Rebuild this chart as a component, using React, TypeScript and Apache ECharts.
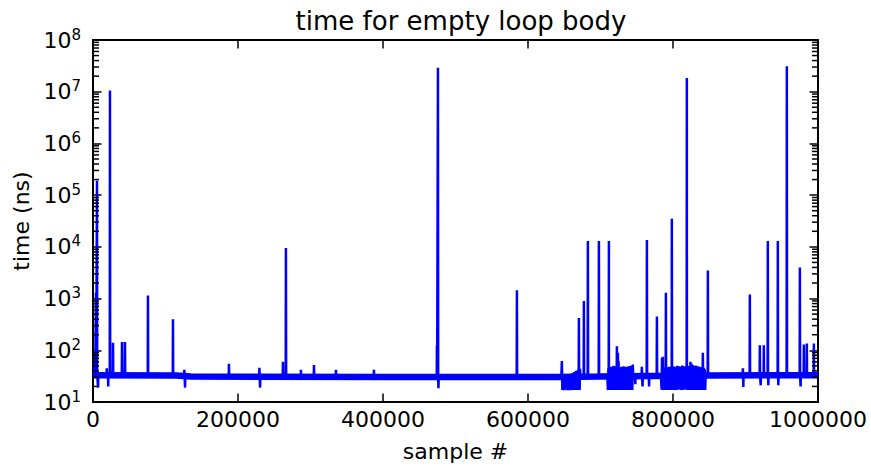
import React, { useEffect, useRef } from 'react';
import * as echarts from 'echarts';

const FONT = 'DejaVu Sans';
const BLUE = '#0000ff';

const xTicks = [0, 200000, 400000, 600000, 800000, 1000000];
const yMin = 10;
const yMax = 1e8;
const decadeStarts = [10, 100, 1000, 10000, 100000, 1000000, 10000000];
const minorMultipliers = [2, 3, 4, 5, 6, 7, 8, 9];

// slowly varying baseline level (ns) at given sample indices
const baseLevels: [number, number][] = [
  [0, 33], [115000, 32.5], [135000, 31], [400000, 30.5], [640000, 30.5],
  [700000, 31], [845000, 32.5], [1000000, 33],
];

// isolated spikes / dips: [sample #, time ns]
const spikes: [number, number][] = [
  [1500, 55], [2800, 90], [4100, 1300], [5500, 190000], [7000, 19],
  [19000, 45], [21000, 20], [23400, 10500000], [27600, 140],
  [40000, 145], [44100, 145],
  [75800, 1150], [110300, 400],
  [126000, 42], [127000, 19],
  [187500, 55], [229500, 46], [230500, 19],
  [262000, 60], [266100, 9500],
  [286800, 42], [304800, 52], [335100, 42], [387500, 42],
  [474400, 125], [475800, 29000000], [476500, 18.5],
  [584700, 1450],
  [670200, 420], [677100, 900], [682600, 13000], [697800, 13000],
  [711600, 13000], [722600, 120], [724000, 90],
  [748000, 22], [757000, 48], [758000, 20], [764000, 13500], [767000, 20],
  [777800, 450],
  [786000, 75], [790200, 1300], [798400, 35000], [819100, 18500000],
  [841200, 90], [848100, 3500],
  [896400, 45], [897000, 19.5], [906000, 1200], [919800, 125], [921000, 21],
  [925300, 125], [930800, 13000], [931500, 21], [944600, 13000], [945300, 21],
  [957000, 31000000], [975000, 4000], [976000, 20], [980500, 130],
  [984600, 135], [994300, 135],
];

// dense noisy stretches: [sample #, time ns]
const noiseA: [number, number][] = [
  [646000, 30], [646700, 62], [647400, 17], [648100, 29], [648800, 17.5], [649500, 30],
  [650200, 17], [650900, 31], [651600, 18], [652300, 30], [653000, 17.5], [653700, 32],
  [654400, 17], [655100, 31], [655800, 17.5], [656500, 33], [657200, 17], [657900, 34],
  [658600, 18], [659300, 33], [660000, 17], [660700, 36], [661400, 17.5], [662100, 35],
  [662800, 17], [663500, 38], [664200, 17.5], [664900, 37], [665600, 17], [666300, 40],
  [667000, 18], [667700, 39], [668400, 17], [669100, 42], [669800, 17.5], [670500, 41],
  [671200, 17], [671700, 44], [672200, 31],
];
const noiseB: [number, number][] = [
  [709500, 31], [710200, 17], [710900, 45], [711600, 17.5], [712300, 47], [713000, 17],
  [713700, 44], [714400, 18], [715100, 48], [715800, 17], [716500, 46], [717200, 17.5],
  [717900, 50], [718600, 17], [719300, 47], [720000, 18], [720700, 49], [721400, 17],
  [722100, 46], [722800, 17.5], [723500, 58], [724200, 17], [724900, 62], [725600, 18],
  [726300, 47], [727000, 17], [727700, 45], [728400, 17.5], [729100, 48], [729800, 17],
  [730500, 46], [731200, 18], [731900, 49], [732600, 17], [733300, 47], [734000, 17.5],
  [734700, 45], [735400, 17], [736100, 48], [736800, 18], [737500, 46], [738200, 17],
  [738900, 49], [739600, 17.5], [740300, 47], [741000, 17], [741700, 50], [742400, 18],
  [743100, 48], [743800, 17], [744500, 53], [745200, 31],
];
const noiseC: [number, number][] = [
  [783500, 31], [784200, 17.5], [784900, 72], [785600, 17], [786300, 42], [787000, 18],
  [787700, 44], [788400, 17], [789100, 46], [789800, 17.5], [790500, 43], [791200, 17],
  [791900, 47], [792600, 18], [793300, 45], [794000, 17], [794700, 48], [795400, 17.5],
  [796100, 46], [796800, 17], [797500, 44], [798200, 18], [798900, 47], [799600, 17],
  [800300, 49], [801000, 17.5], [801700, 46], [802400, 17], [803100, 48], [803800, 18.5],
  [804500, 45], [805200, 17], [805900, 50], [806600, 19], [807300, 47], [808000, 17.5],
  [808700, 49], [809400, 19], [810100, 46], [810800, 17], [811500, 48], [812200, 18.5],
  [812900, 51], [813600, 17], [814300, 47], [815000, 19], [815700, 49], [816400, 17.5],
  [817100, 46], [817800, 18], [818500, 48], [819200, 17], [819900, 50], [820600, 17.5],
  [821300, 47], [822000, 17], [822700, 49], [823400, 18], [824100, 60], [824800, 17],
  [825500, 55], [826200, 17.5], [826900, 52], [827600, 17], [828300, 50], [829000, 18],
  [829700, 48], [830400, 17], [831100, 51], [831800, 17.5], [832500, 47], [833200, 17],
  [833900, 49], [834600, 18], [835300, 46], [836000, 17], [836700, 48], [837400, 17.5],
  [838100, 45], [838800, 17], [839500, 47], [840200, 18], [840900, 44], [841600, 17],
  [842300, 46], [843000, 17.5], [843700, 43], [844400, 17], [845200, 32],
];

function levelAt(x: number): number {
  let lv = baseLevels[0][1];
  for (const [bx, v] of baseLevels) if (bx <= x) lv = v;
  return lv;
}

function buildLine(): [number, number][] {
  const pts: [number, number][] = [];
  for (const p of baseLevels) pts.push([p[0], p[1]]);
  for (const [x, v] of spikes) {
    const b = levelAt(x);
    pts.push([x - 300, b], [x, v], [x + 300, b]);
  }
  for (const band of [noiseA, noiseB, noiseC]) for (const p of band) pts.push([p[0], p[1]]);
  pts.sort((a, b) => a[0] - b[0]);
  return pts;
}

function minorTickData(): [number, number][] {
  const out: [number, number][] = [];
  for (const d of decadeStarts) for (const k of minorMultipliers) out.push([0, d * k]);
  return out;
}

export default function App() {
  const ref = useRef<HTMLDivElement>(null);
  useEffect(() => {
    if (!ref.current) return;
    const chart = echarts.init(ref.current, null, { renderer: 'svg' });
    const axisLine = { show: true, onZero: false, lineStyle: { color: '#000', width: 2 } };
    const majorTick = { show: true, inside: true, length: 8.5, lineStyle: { color: '#000', width: 1.5 } };
    chart.setOption({
      animation: false,
      title: {
        text: 'time for empty loop body',
        left: 456, top: 3, textAlign: 'center',
        textStyle: { fontFamily: FONT, fontSize: 26, fontWeight: 'normal', color: '#000' },
      },
      grid: { left: 93, right: 53, top: 40, bottom: 65 },
      xAxis: [
        {
          type: 'value', position: 'bottom', min: 0, max: 1000000, interval: 200000,
          axisLine, axisTick: majorTick, splitLine: { show: false },
          axisLabel: {
            color: '#000', fontFamily: FONT, fontSize: 22, margin: 6,
            customValues: xTicks, formatter: (v: number) => String(v),
          },
          name: 'sample #', nameLocation: 'middle', nameGap: 38,
          nameTextStyle: { color: '#000', fontFamily: FONT, fontSize: 22 },
        },
        {
          type: 'value', position: 'top', min: 0, max: 1000000, interval: 200000,
          axisLine, axisTick: majorTick, splitLine: { show: false }, axisLabel: { show: false },
        },
      ],
      yAxis: [
        {
          type: 'log', logBase: 10, min: yMin, max: yMax, position: 'left',
          axisLine, axisTick: majorTick, splitLine: { show: false }, minorTick: { show: false },
          axisLabel: {
            margin: 12,
            formatter: (v: number) => `{b|10}{s|${Math.round(Math.log10(v))}}`,
            rich: {
              b: { fontFamily: FONT, fontSize: 22, color: '#000', lineHeight: 26 },
              s: { fontFamily: FONT, fontSize: 15, color: '#000', lineHeight: 14, verticalAlign: 'top' },
            },
          },
          name: 'time (ns)', nameLocation: 'middle', nameGap: 52,
          nameTextStyle: { color: '#000', fontFamily: FONT, fontSize: 22 },
        },
        {
          type: 'log', logBase: 10, min: yMin, max: yMax, position: 'right',
          axisLine, axisTick: majorTick, splitLine: { show: false }, axisLabel: { show: false },
        },
      ],
      series: [
        {
          type: 'line', xAxisIndex: 0, yAxisIndex: 0, data: baseLevels,
          showSymbol: false, symbol: 'none', lineStyle: { color: BLUE, width: 6.5 },
          silent: true, z: 2,
        },
        {
          type: 'line', xAxisIndex: 0, yAxisIndex: 0, data: buildLine(),
          showSymbol: false, symbol: 'none',
          lineStyle: { color: BLUE, width: 2.5 }, silent: true, z: 3,
        },
        {
          // minor log ticks (2..9 × 10^n) on the left and right frame
          type: 'custom', coordinateSystem: 'cartesian2d', xAxisIndex: 0, yAxisIndex: 0,
          encode: { x: 0, y: 1 }, data: minorTickData(),
          clip: false, z: 20,
          renderItem: (_params: any, api: any) => {
            const v = api.value(1);
            const l = api.coord([0, v]);
            const r = api.coord([1000000, v]);
            const style = { stroke: '#000', fill: null, lineWidth: 1.5 };
            return {
              type: 'group',
              children: [
                { type: 'line', shape: { x1: l[0], y1: l[1], x2: l[0] + 6, y2: l[1] }, style },
                { type: 'line', shape: { x1: r[0] - 6, y1: r[1], x2: r[0], y2: r[1] }, style },
              ],
            };
          },
        },
      ],
    });
    return () => chart.dispose();
  }, []);
  return <div ref={ref} style={{ position: 'absolute', left: 0, top: 0, width: 871, height: 467 }} />;
}
